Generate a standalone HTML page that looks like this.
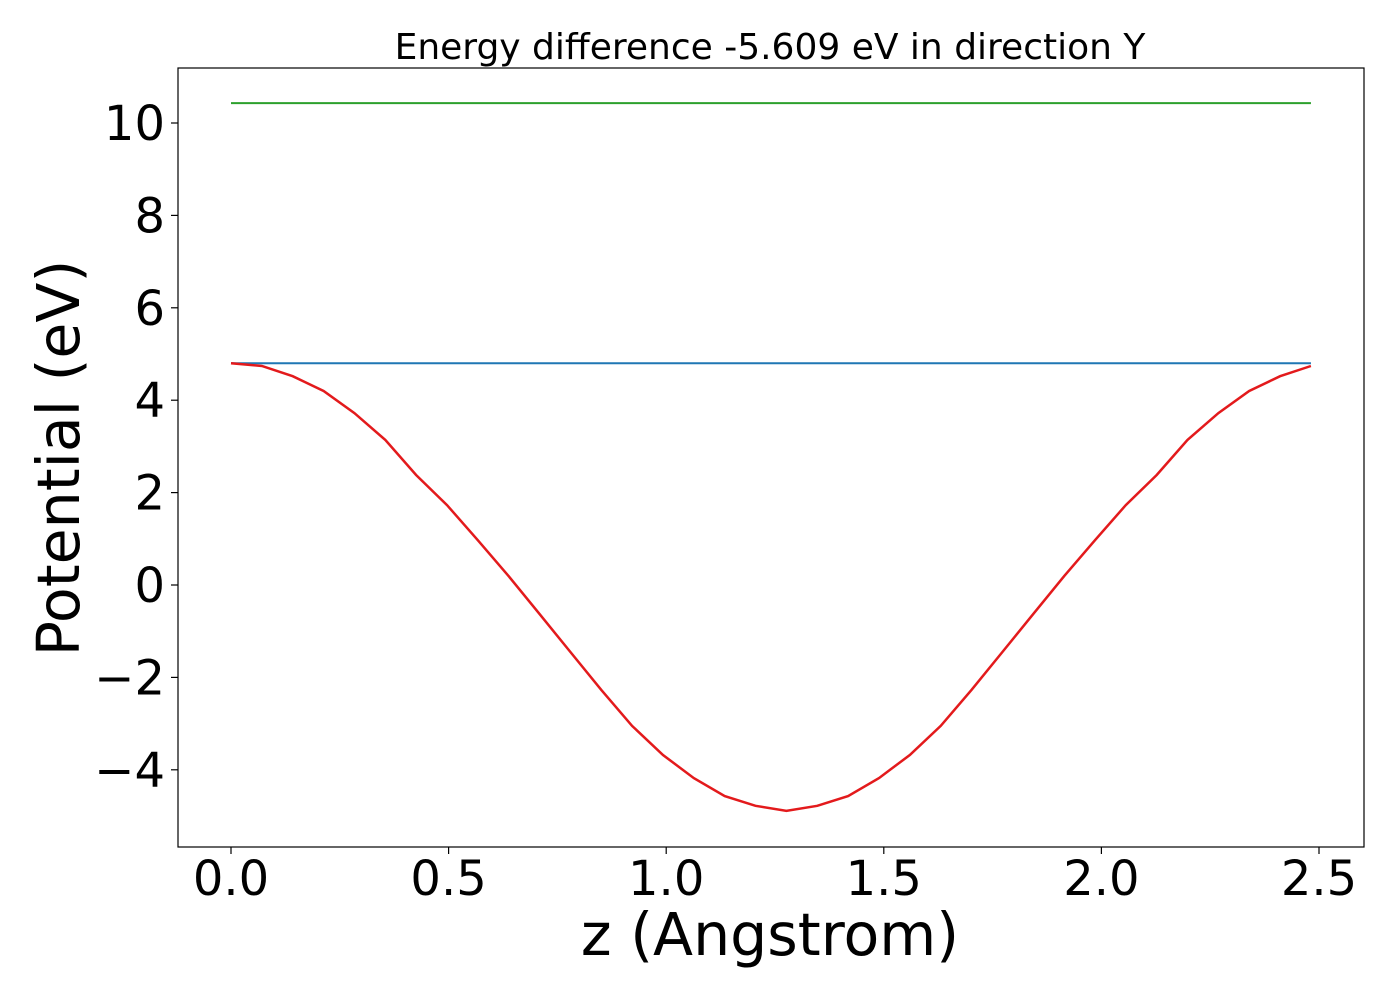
<!DOCTYPE html>
<html><head><meta charset="utf-8"><style>
html,body{margin:0;padding:0;background:#fff;}
svg{display:block;font-family:"DejaVu Sans","Liberation Sans",sans-serif;}
</style></head><body>
<svg id="chart" width="1400" height="1000">
<rect x="178" y="68" width="1186" height="779" fill="none" stroke="#000" stroke-width="1.2"/>
<g id="series"></g>
<g id="axes"></g>
<text x="770" y="59" font-size="36" text-anchor="middle">Energy difference -5.609 eV in direction Y</text>
<text x="770" y="955" font-size="58.5" text-anchor="middle">z (Angstrom)</text>
<text transform="translate(79,458) rotate(-90)" font-size="58.5" text-anchor="middle">Potential (eV)</text>
</svg>
<script>
const xTicks = [0.0, 0.5, 1.0, 1.5, 2.0, 2.5];
const xTickLabels = ["0.0","0.5","1.0","1.5","2.0","2.5"];
const yTicks = [-4, -2, 0, 2, 4, 6, 8, 10];
const yTickLabels = ["\u22124","\u22122","0","2","4","6","8","10"];
const zStep = 0.0709;
const potential = [4.80,4.74,4.52,4.20,3.72,3.14,2.38,1.73,0.97,0.19,-0.63,-1.45,-2.27,-3.05,-3.68,-4.18,-4.57,-4.78,-4.89,
 -4.78,-4.57,-4.18,-3.68,-3.05,-2.27,-1.45,-0.63,0.19,0.97,1.73,2.38,3.14,3.72,4.20,4.52,4.74];
const blueLevel = 4.80;
const greenLevel = 10.43;

const NS = "http://www.w3.org/2000/svg";
const xS = v => 231 + v * 435.2;
const yS = v => 585 - v * 46.2;
const axes = document.getElementById('axes');
const series = document.getElementById('series');
function mk(tag, attrs, parent) {
  const e = document.createElementNS(NS, tag);
  for (const k in attrs) e.setAttribute(k, attrs[k]);
  parent.appendChild(e);
  return e;
}
xTicks.forEach((t, i) => {
  const l = mk('line', {x1: xS(t), x2: xS(t), y1: 847, y2: 854, stroke: '#000', 'stroke-width': 1.2}, axes);
  
  
  const tx = mk('text', {x: xS(t), y: 895, 'font-size': 48, 'text-anchor': 'middle'}, axes);
  tx.textContent = xTickLabels[i];
  
  
});
yTicks.forEach((t, i) => {
  const l = mk('line', {x1: 171, x2: 178, y1: yS(t), y2: yS(t), stroke: '#000', 'stroke-width': 1.2}, axes);
  
  
  const tx = mk('text', {x: 165, y: yS(t) + 17, 'font-size': 48, 'text-anchor': 'end'}, axes);
  tx.textContent = yTickLabels[i];
  
  
});
const zMax = (potential.length - 1) * zStep;
const g = mk('line', {x1: xS(0), x2: xS(zMax), y1: yS(greenLevel), y2: yS(greenLevel), stroke: '#2ca02c', 'stroke-width': 2}, series);


const b = mk('line', {x1: xS(0), x2: xS(zMax), y1: yS(blueLevel), y2: yS(blueLevel), stroke: '#1f77b4', 'stroke-width': 2}, series);


const pts = potential.map((v, i) => xS(i * zStep).toFixed(1) + ',' + yS(v).toFixed(1)).join(' ');
const r = mk('polyline', {points: pts, fill: 'none', stroke: '#e31a1c', 'stroke-width': 2.5}, series);


</script>
</body></html>
